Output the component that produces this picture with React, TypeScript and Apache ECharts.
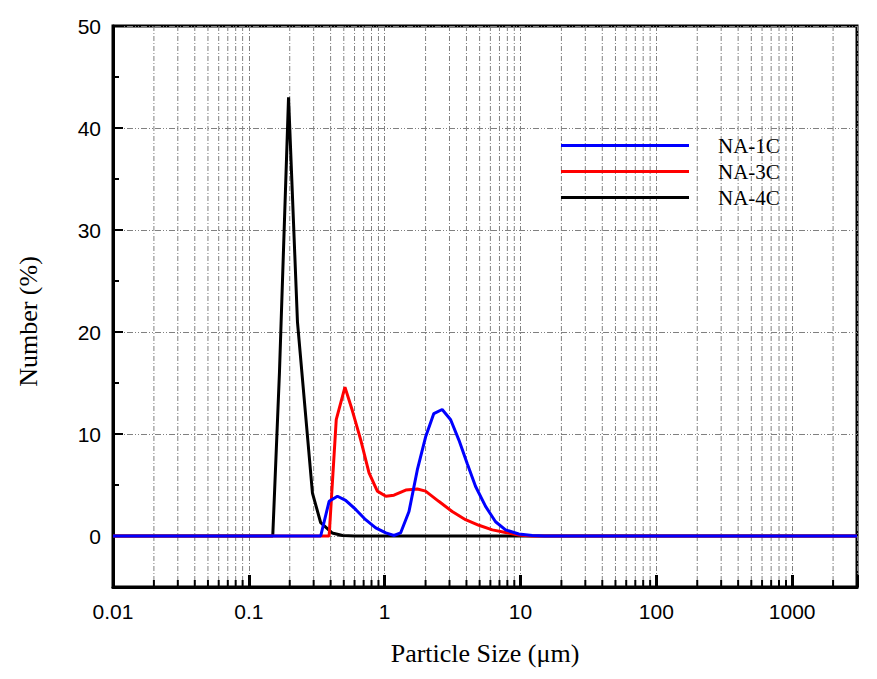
import React, { useEffect, useRef } from 'react';
import * as echarts from 'echarts';

// NA-1C (blue)
const size1 = [0.01, 0.338, 0.39, 0.449, 0.516, 0.612, 0.724, 0.859, 1.02, 1.17, 1.31, 1.51, 1.74, 2.0, 2.3, 2.65, 3.06, 3.52, 4.05, 4.67, 5.53, 6.55, 7.76, 9.7, 12.2, 15, 3000];
const num1 = [0, 0, 3.4, 3.9, 3.5, 2.6, 1.6, 0.8, 0.3, 0.05, 0.3, 2.4, 6.5, 9.7, 12.0, 12.4, 11.4, 9.4, 7.1, 4.85, 2.9, 1.4, 0.6, 0.2, 0.05, 0, 0];

// NA-3C (red)
const size3 = [0.01, 0.39, 0.44, 0.51, 0.578, 0.667, 0.767, 0.883, 1.02, 1.17, 1.43, 1.74, 2.0, 2.5, 3.14, 3.94, 4.94, 6.2, 7.76, 9.7, 12.2, 3000];
const num3 = [0, 0, 11.4, 14.6, 12.3, 9.4, 6.2, 4.4, 3.9, 4.0, 4.5, 4.6, 4.4, 3.4, 2.4, 1.6, 1.05, 0.6, 0.35, 0.1, 0, 0];

// NA-4C (black)
const size4 = [0.01, 0.15, 0.168, 0.196, 0.228, 0.294, 0.338, 0.41, 0.49, 0.6, 3000];
const num4 = [0, 0, 16, 43, 21, 4.2, 1.3, 0.3, 0.05, 0, 0];

const legendNames = ['NA-1C', 'NA-3C', 'NA-4C'];
const xTickLabels = ['0.01', '0.1', '1', '10', '100', '1000'];
const yTickLabels = ['0', '10', '20', '30', '40', '50'];
const minorMantissas = [2, 3, 4, 5, 6, 7, 8, 9];
const decades = [0.01, 0.1, 1, 10, 100, 1000];

const X_MIN = 0.01;
const X_MAX = 3000;
const Y_MIN = -5;
const Y_MAX = 50;

function pairs(xs: number[], ys: number[]) {
  return xs.map((x, i) => [x, ys[i]]);
}

const minorX: number[] = [];
decades.forEach((d) =>
  minorMantissas.forEach((m) => {
    const v = parseFloat((d * m).toPrecision(6));
    if (v < X_MAX) minorX.push(v);
  })
);

export default function App() {
  const ref = useRef<HTMLDivElement>(null);
  useEffect(() => {
    if (!ref.current) return;
    const chart = echarts.init(ref.current, null, { renderer: 'svg' });
    const sans = '"Liberation Sans", Arial, sans-serif';
    const serif = '"Liberation Serif", "Times New Roman", serif';
    chart.setOption({
      animation: false,
      backgroundColor: '#fff',
      grid: {
        left: 113,
        right: 20,
        top: 26,
        bottom: 92,
        show: true,
        borderColor: '#000',
        borderWidth: 3,
      },
      legend: {
        orient: 'vertical',
        left: 556,
        top: 130,
        icon: 'rect',
        itemWidth: 128,
        itemHeight: 3,
        itemGap: 5,
        data: legendNames,
        selectedMode: false,
        textStyle: {
          fontFamily: serif,
          fontSize: 21,
          color: '#000',
          lineHeight: 21,
          padding: [0, 0, 0, 24],
        },
      },
      xAxis: {
        type: 'log',
        logBase: 10,
        min: X_MIN,
        max: X_MAX,
        name: 'Particle Size (μm)',
        nameLocation: 'middle',
        nameGap: 53,
        nameTextStyle: { fontFamily: serif, fontSize: 26, color: '#000' },
        axisLine: { show: true, onZero: false, lineStyle: { color: '#000', width: 3 } },
        axisTick: { show: true, inside: true, length: 12, lineStyle: { color: '#000', width: 3 } },
        minorTick: { show: false },
        axisLabel: {
          margin: 14,
          fontSize: 21,
          fontFamily: sans,
          color: '#000',
          formatter: (v: number) => {
            const s = String(parseFloat(Number(v).toPrecision(6)));
            return xTickLabels.includes(s) ? s : '';
          },
        },
        splitLine: { show: true, lineStyle: { color: '#808080', width: 1, type: [5, 2, 1, 2] } },
      },
      yAxis: {
        type: 'value',
        min: Y_MIN,
        max: Y_MAX,
        minInterval: 10,
        maxInterval: 10,
        name: 'Number (%)',
        nameLocation: 'middle',
        nameGap: 72,
        nameTextStyle: { fontFamily: serif, fontSize: 26, color: '#000', padding: [0, 30, 0, 0] },
        axisLine: { show: true, onZero: false, lineStyle: { color: '#000', width: 3 } },
        axisTick: { show: true, inside: true, length: 10, lineStyle: { color: '#000', width: 2 } },
        minorTick: { show: true, splitNumber: 2, length: 6, lineStyle: { color: '#000', width: 2 } },
        axisLabel: {
          margin: 12,
          fontSize: 21,
          fontFamily: sans,
          color: '#000',
          formatter: (v: number) => {
            const s = String(v);
            return yTickLabels.includes(s) ? s : '';
          },
        },
        splitLine: { show: true, lineStyle: { color: '#808080', width: 1, type: [6, 2, 1, 2, 1, 2] } },
      },
      series: [
        {
          type: 'custom',
          silent: true,
          z: 1,
          clip: false,
          data: minorX.map((v) => [v, Y_MIN]),
          encode: { x: 0, y: 1 },
          renderItem: (_params: any, api: any) => {
            const v = api.value(0);
            const b = api.coord([v, Y_MIN]);
            const t = api.coord([v, Y_MAX]);
            return {
              type: 'group',
              children: [
                {
                  type: 'line',
                  shape: { x1: b[0], y1: t[1], x2: b[0], y2: b[1] },
                  style: { stroke: '#808080', lineWidth: 1, lineDash: [5, 2, 1, 2] },
                },
                {
                  type: 'line',
                  shape: { x1: b[0], y1: b[1], x2: b[0], y2: b[1] - 7 },
                  style: { stroke: '#000', lineWidth: 2 },
                },
              ],
            };
          },
        },
        {
          name: 'NA-4C',
          type: 'line',
          data: pairs(size4, num4),
          symbol: 'none',
          showSymbol: false,
          z: 3,
          color: '#000000',
          lineStyle: { color: '#000000', width: 3 },
          emphasis: { disabled: true },
        },
        {
          name: 'NA-3C',
          type: 'line',
          data: pairs(size3, num3),
          symbol: 'none',
          showSymbol: false,
          z: 3,
          color: '#ff0000',
          lineStyle: { color: '#ff0000', width: 3 },
          emphasis: { disabled: true },
        },
        {
          name: 'NA-1C',
          type: 'line',
          data: pairs(size1, num1),
          symbol: 'none',
          showSymbol: false,
          z: 3,
          color: '#0000ff',
          lineStyle: { color: '#0000ff', width: 3 },
          emphasis: { disabled: true },
        },
      ],
    });
    return () => chart.dispose();
  }, []);
  return (
    <div
      ref={ref}
      style={{ position: 'fixed', left: 0, top: 0, width: 877, height: 679, background: '#fff' }}
    />
  );
}
